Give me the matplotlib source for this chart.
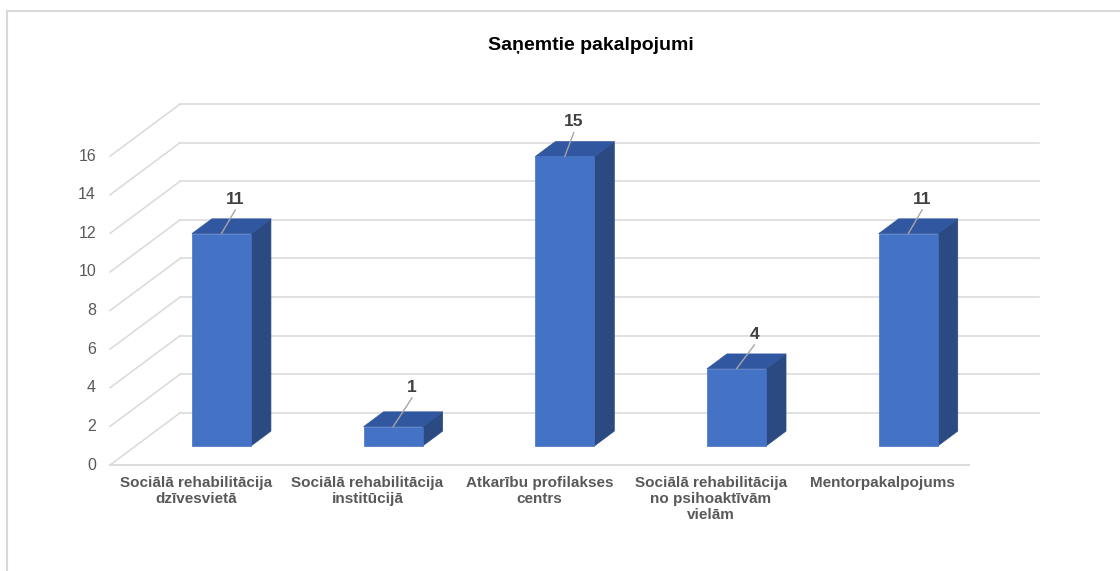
import matplotlib
matplotlib.use("Agg")
import matplotlib.pyplot as plt
from matplotlib.patches import Polygon
from matplotlib.lines import Line2D

categories = ["Sociālā rehabilitācija\ndzīvesvietā",
              "Sociālā rehabilitācija\ninstitūcijā",
              "Atkarību profilakses\ncentrs",
              "Sociālā rehabilitācija\nno psihoaktīvām\nvielām",
              "Mentorpakalpojums"]
values = [11, 1, 15, 4, 11]
yticks = [0, 2, 4, 6, 8, 10, 12, 14, 16]
title = "Saņemtie pakalpojumi"

# label leader offsets (pixels)
label_offsets = [(14, 24), (19, 29), (9, 24), (18, 24), (14, 24)]

plt.rcParams['font.family'] = ['Liberation Sans', 'DejaVu Sans']

W, H = 1120, 571
fig = plt.figure(figsize=(W / 100, H / 100), dpi=100)

# 3D oblique depth in data units
DX = 0.408
DY = 2.7
n = len(categories)
ymax = yticks[-1]

left_px, right_px = 110, 110 + 171.7 * (n + DX)
bot_px = 465
px_per_unit = 19.3
top_px = bot_px - px_per_unit * (ymax + DY)
ax = fig.add_axes([left_px / W, (H - bot_px) / H, (right_px - left_px) / W, (bot_px - top_px) / H])
ax.set_xlim(0, n + DX)
ax.set_ylim(0, ymax + DY)
ax.axis('off')

grid_c = '#D9D9D9'
for v in yticks:
    ax.plot([0, DX], [v, v + DY], color=grid_c, lw=1.1, zorder=1, clip_on=False)
    ax.plot([DX, n + DX], [v + DY, v + DY], color=grid_c, lw=1.1, zorder=1, clip_on=False)
    ax.annotate(str(v), (0, v), xytext=(-14, 0), textcoords='offset pixels',
                ha='right', va='center', fontsize=11.5, color='#595959')
ax.plot([0, n], [0, 0], color=grid_c, lw=1.3, zorder=1, clip_on=False)

front_c = '#4472C4'
top_c = '#3157A0'
side_c = '#2B4A82'
d1, d2 = 0.365, 0.65
hw = 0.172

def P(x, y, d):
    return (x + d * DX, y + d * DY)

for i, v in enumerate(values):
    cx = i + 0.5
    x0, x1 = cx - hw, cx + hw
    front = [P(x0, 0, d1), P(x1, 0, d1), P(x1, v, d1), P(x0, v, d1)]
    top = [P(x0, v, d1), P(x1, v, d1), P(x1, v, d2), P(x0, v, d2)]
    side = [P(x1, 0, d1), P(x1, 0, d2), P(x1, v, d2), P(x1, v, d1)]
    ax.add_patch(Polygon(side, closed=True, facecolor=side_c, edgecolor=side_c, lw=0.5, zorder=3))
    ax.add_patch(Polygon(top, closed=True, facecolor=top_c, edgecolor=top_c, lw=0.5, zorder=3))
    ax.add_patch(Polygon(front, closed=True, facecolor=front_c, edgecolor=front_c, lw=0.5, zorder=4))
    ox, oy = label_offsets[i]
    anchor = P(cx, v, d1)
    ax.annotate("", xy=anchor, xytext=(ox, oy), textcoords='offset pixels',
                arrowprops=dict(arrowstyle='-', color='#A6A6A6', lw=1, shrinkA=0, shrinkB=0),
                zorder=5)
    ax.annotate(str(v), anchor, xytext=(ox, oy + 3), textcoords='offset pixels',
                ha='center', va='bottom', fontsize=12.5, fontweight='bold', color='#404040', zorder=6)
    ax.annotate(categories[i], (cx, 0), xytext=(0, -11), textcoords='offset pixels',
                ha='center', va='top', fontsize=11, fontweight='bold', color='#595959',
                linespacing=1.2)

fig.text(591 / W, 1 - 46 / H, title, ha='center', va='center', fontsize=14,
         fontweight='bold', color='black')

fig.add_artist(Line2D([7 / W, 1], [1 - 11 / H, 1 - 11 / H], color='#D9D9D9', lw=1.5))
fig.add_artist(Line2D([7 / W, 7 / W], [0, 1 - 11 / H], color='#D9D9D9', lw=1.5))

fig.savefig('out.png', dpi=100)
